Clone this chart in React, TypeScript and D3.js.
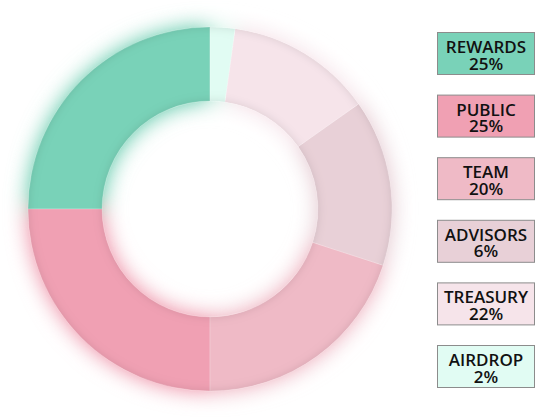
import React, { useEffect, useRef } from "react";
import * as d3 from "d3";

const names = ["REWARDS", "PUBLIC", "TEAM", "ADVISORS", "TREASURY", "AIRDROP"];
const legendLabels = ["25%", "25%", "20%", "6%", "22%", "2%"];
const sliceValues = [25, 25, 20, 14.8, 13, 2.2];
const colors = ["#79d2b8", "#f0a0b3", "#efbac6", "#e8d0d7", "#f6e4ea", "#e1fcf3"];

const W = 560;
const H = 419;

const App: React.FC = () => {
  const svgRef = useRef<SVGSVGElement | null>(null);

  useEffect(() => {
    if (!svgRef.current) return;
    const svg = d3.select(svgRef.current);
    svg.selectAll("*").remove();

    const cx = 210;
    const cy = 209;
    const outerR = 182;
    const innerR = 108;

    const defs = svg.append("defs");
    const f = defs
      .append("filter")
      .attr("id", "ringFx")
      .attr("x", "-30%")
      .attr("y", "-30%")
      .attr("width", "160%")
      .attr("height", "160%");
    f.append("feGaussianBlur")
      .attr("in", "SourceGraphic")
      .attr("stdDeviation", 11)
      .attr("result", "blur0");
    // push the glow a bit stronger
    f.append("feComponentTransfer")
      .attr("in", "blur0")
      .attr("result", "blur")
      .append("feFuncA")
      .attr("type", "linear")
      .attr("slope", 1.3);
    f.append("feGaussianBlur")
      .attr("in", "SourceAlpha")
      .attr("stdDeviation", 5)
      .attr("result", "ab");
    f.append("feComposite")
      .attr("in", "SourceAlpha")
      .attr("in2", "ab")
      .attr("operator", "arithmetic")
      .attr("k2", 1)
      .attr("k3", -1)
      .attr("result", "edge");
    f.append("feFlood").attr("flood-color", "#000").attr("flood-opacity", 0.25);
    f.append("feComposite").attr("in2", "edge").attr("operator", "in").attr("result", "shade");
    const merge = f.append("feMerge");
    merge.append("feMergeNode").attr("in", "blur");
    merge.append("feMergeNode").attr("in", "SourceGraphic");
    merge.append("feMergeNode").attr("in", "shade");

    svg.append("rect").attr("width", W).attr("height", H).attr("fill", "#fff");

    const data = names.map((n, i) => ({ name: n, value: sliceValues[i], color: colors[i] }));
    const pie = d3
      .pie<any>()
      .sort(null)
      .value((d) => d.value)
      .startAngle(0)
      .endAngle(-2 * Math.PI);
    const arc = d3.arc<any>().innerRadius(innerR).outerRadius(outerR);

    const ring = svg
      .append("g")
      .attr("transform", `translate(${cx},${cy})`)
      .attr("filter", "url(#ringFx)");
    ring
      .selectAll("path")
      .data(pie(data))
      .enter()
      .append("path")
      .attr("d", arc)
      .attr("fill", (d) => d.data.color)
      .attr("stroke", "rgba(255,255,255,0.35)")
      .attr("stroke-width", 0.6);

    // legend
    const y = d3.scalePoint<string>().domain(names).range([32, 345]);
    const boxW = 97;
    const boxH = 42;
    const lg = svg
      .append("g")
      .selectAll("g")
      .data(data)
      .enter()
      .append("g")
      .attr("transform", (d) => `translate(437,${y(d.name)})`);
    lg.append("rect")
      .attr("x", 0.5)
      .attr("y", 0.5)
      .attr("width", boxW)
      .attr("height", boxH)
      .attr("fill", (d) => d.color)
      .attr("stroke", "#8c8c8c")
      .attr("stroke-width", 1);
    const txt = lg
      .append("text")
      .attr("text-anchor", "middle")
      .attr("font-family", "'Open Sans', sans-serif")
      .attr("font-weight", 600)
      .attr("font-size", 17)
      .attr("fill", "#111");
    txt
      .append("tspan")
      .attr("x", boxW / 2 + 0.5)
      .attr("y", 21)
      .text((d) => d.name);
    txt
      .append("tspan")
      .attr("x", boxW / 2 + 0.5)
      .attr("y", 37.5)
      .text((d, i) => legendLabels[i]);
  }, []);

  return (
    <svg
      ref={svgRef}
      width={W}
      height={H}
      style={{ position: "absolute", left: 0, top: 0, display: "block" }}
    ></svg>
  );
};

export default App;
